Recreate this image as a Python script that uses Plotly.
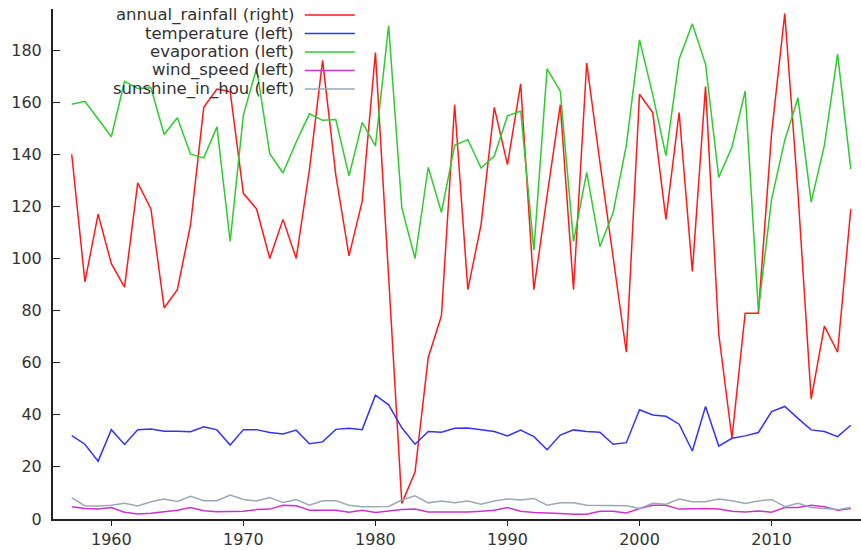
import plotly.graph_objects as go

years = list(range(1957, 2017))

annual_rainfall = [140, 91, 117, 98, 89, 129, 119, 81, 88, 113,
                   158, 165, 164, 125, 119, 100, 115, 100, 134, 176,
                   132, 101, 122, 179, 93, 6, 18, 62, 78, 159,
                   88, 113, 158, 136, 167, 88, 124, 159, 88, 175,
                   137, 101, 64, 163, 156, 115, 156, 95, 166, 71,
                   31, 79, 79, 148, 194, 125, 46, 74, 64, 119]

temperature = [32, 28.7, 22.2, 34.3, 28.6, 34.3, 34.5, 33.7, 33.7, 33.5,
               35.4, 34.2, 28.4, 34.3, 34.3, 33.2, 32.6, 34.1, 28.9, 29.6,
               34.4, 34.8, 34.3, 47.5, 43.8, 35, 28.7, 33.6, 33.3, 34.8,
               34.9, 34.2, 33.6, 31.9, 34.1, 31.6, 26.6, 32.2, 34.2, 33.6,
               33.3, 28.7, 29.3, 41.9, 39.9, 39.4, 36.4, 26.1, 43.2, 28,
               31, 31.9, 33.2, 41.2, 43.2, 38.6, 34.2, 33.6, 31.6, 36]

evaporation = [159.2, 160.3, 153.5, 146.7, 168, 165.2, 165.5, 147.6, 154, 140,
               138.6, 150.5, 106.5, 155, 173, 140.2, 132.8, 144.7, 155.5, 153,
               153.3, 131.7, 152.2, 143.2, 189.4, 119.4, 100, 135, 117.7, 143.4,
               145.6, 134.7, 139.3, 154.7, 156.6, 103.2, 172.8, 164.2, 106.5, 133,
               104.5, 117.5, 143.4, 183.9, 162.9, 139.5, 176.5, 190.1, 174.5, 131.1,
               142.8, 164.2, 79.9, 122.7, 145.4, 161.6, 121.6, 143.4, 178.4, 134.3]

wind_speed = [4.7, 4.0, 3.8, 4.4, 2.6, 1.9, 2.2, 2.7, 3.4, 4.4,
              3.2, 2.8, 3.0, 3.0, 3.6, 3.8, 5.3, 5.1, 3.4, 3.4,
              3.4, 2.6, 3.4, 2.5, 3.1, 3.6, 3.8, 2.7, 2.7, 2.7,
              2.7, 3.0, 3.4, 4.4, 3.0, 2.5, 2.4, 2.1, 1.8, 1.8,
              3.0, 3.0, 2.3, 4.0, 5.3, 5.3, 3.8, 4.0, 4.0, 3.8,
              3.0, 2.7, 3.1, 2.6, 4.4, 4.4, 5.3, 4.7, 3.4, 4.0]

sunshine_in_hou = [8.2, 5.0, 5.0, 5.3, 6.0, 5.0, 6.6, 7.7, 6.7, 8.7,
                   7.0, 7.0, 9.2, 7.5, 6.9, 8.2, 6.3, 7.5, 5.3, 7.0,
                   7.0, 5.3, 4.7, 4.7, 4.8, 7.3, 8.9, 6.2, 6.9, 6.2,
                   6.9, 5.7, 6.9, 7.7, 7.3, 7.9, 5.3, 6.2, 6.2, 5.3,
                   5.3, 5.1, 5.1, 4.0, 6.0, 5.7, 7.7, 6.6, 6.6, 7.7,
                   7.0, 6.0, 6.9, 7.5, 4.7, 6.0, 4.4, 4.0, 3.6, 4.4]

series = [
    ("annual_rainfall (right)", annual_rainfall, "#ff1a1a"),
    ("temperature (left)", temperature, "#3333ff"),
    ("evaporation (left)", evaporation, "#2ecc2e"),
    ("wind_speed (left)", wind_speed, "#cc33cc"),
    ("sunshine_in_hou (left)", sunshine_in_hou, "#99aab5"),
]

xticks = [1960, 1970, 1980, 1990, 2000, 2010]
yticks = list(range(0, 181, 20))

FONT = "DejaVu Sans"
TXT = "#333333"

fig = go.Figure()
for name, vals, col in series:
    fig.add_trace(go.Scatter(x=years, y=vals, mode="lines", name=name,
                             line=dict(color=col, width=1.5), showlegend=False,
                             hoverinfo="skip"))

W, H = 861, 550
plot_left, plot_top, plot_bottom, plot_right = 53.3, 9, 519.3, 861
ml, mt, mb, mr = plot_left, plot_top, H - plot_bottom, W - plot_right
pw, ph = W - ml - mr, H - mt - mb

# custom legend: text right-aligned, sample line on the right
leg_y = [15, 33.5, 52, 70.5, 89]
text_right = 296
line_x0, line_x1 = 305, 355

annotations = []
shapes = []
for (name, vals, col), yp in zip(series, leg_y):
    yy = 1 - (yp - plot_top) / ph
    annotations.append(dict(x=(text_right - plot_left) / pw, y=yy, xref="paper", yref="paper",
                            text=name, showarrow=False, xanchor="right", yanchor="middle",
                            font=dict(family=FONT, size=16.5, color=TXT)))
    shapes.append(dict(type="line", xref="paper", yref="paper",
                       x0=(line_x0 - plot_left) / pw, x1=(line_x1 - plot_left) / pw, y0=yy, y1=yy,
                       line=dict(color=col, width=1.5)))

fig.update_layout(
    width=W, height=H,
    margin=dict(l=ml, r=mr, t=mt, b=mb, pad=0, autoexpand=False),
    paper_bgcolor="white", plot_bgcolor="white",
    font=dict(family=FONT, size=16, color=TXT),
    annotations=annotations, shapes=shapes,
    showlegend=False,
)
x0 = 1957 - (72 - plot_left) / 13.2
fig.update_xaxes(range=[x0, x0 + pw / 13.2],
                 tickvals=xticks,
                 showgrid=False, zeroline=False, showline=True, linecolor="#222222",
                 linewidth=2, ticks="outside", ticklen=5, tickcolor="#222222",
                 tickfont=dict(family=FONT, size=16, color=TXT))
fig.update_yaxes(range=[0, ph / 2.607], tickvals=yticks,
                 showgrid=False, zeroline=False, showline=True, linecolor="#222222",
                 linewidth=2, ticks="inside", ticklen=7, tickcolor="#222222",
                 ticklabelstandoff=6,
                 tickfont=dict(family=FONT, size=16, color=TXT))

fig.write_html("out.html", config={"displayModeBar": False},
               post_script="document.body.style.margin='0';document.body.style.overflow='hidden';")
